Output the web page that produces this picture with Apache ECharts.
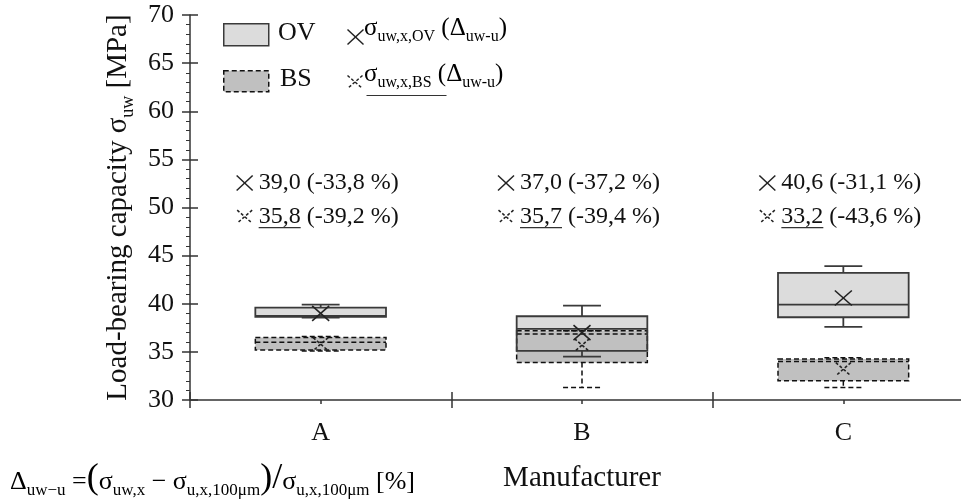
<!DOCTYPE html>
<html>
<head>
<meta charset="utf-8">
<script src="https://cdn.jsdelivr.net/npm/echarts@6/dist/echarts.min.js"></script>
<style>html,body{margin:0;padding:0;background:#fff}#c{width:961px;height:499px}</style>
</head>
<body>
<div id="c"></div>
<script>
// ---- data ----
var categories = ['A', 'B', 'C'];
// [min, q1, median, q3, max]
var ovBox = [
  [38.55, 38.65, 38.75, 39.6, 39.9],
  [34.5, 35.1, 37.4, 38.7, 39.8],
  [37.6, 38.6, 39.9, 43.2, 43.9]
];
var bsBox = [
  [35.1, 35.2, 36.0, 36.5, 36.6],
  [31.3, 33.9, 36.85, 37.2, 37.2],
  [31.3, 32.0, 34.0, 34.25, 34.4]
];
var ovMean = [39.0, 37.0, 40.6];
var bsMean = [35.8, 35.7, 33.2];
var ovDelta = [-33.8, -37.2, -31.1];
var bsDelta = [-39.2, -39.4, -43.6];
var yTicks = [30, 35, 40, 45, 50, 55, 60, 65, 70];

// ---- helpers ----
var FONT = '"Liberation Serif", "Times New Roman", serif';
var FS = 24;
var measureCtx = document.createElement('canvas').getContext('2d');
function textW(t, size) { measureCtx.font = size + 'px ' + FONT; return measureCtx.measureText(t).width; }
function fmt(v) { return v.toFixed(1).replace('.', ','); }
var AX = '#333';

function boxData(arr) { return arr.map(function (b, i) { return [i].concat(b); }); }

function xShape(cx, cy, w, h, dashed, lw) {
  var st = { stroke: '#222', lineWidth: lw || 1.5, fill: null };
  if (dashed) st.lineDash = [3, 2];
  return [
    { type: 'line', shape: { x1: cx - w / 2, y1: cy - h / 2, x2: cx + w / 2, y2: cy + h / 2 }, style: st },
    { type: 'line', shape: { x1: cx + w / 2, y1: cy - h / 2, x2: cx - w / 2, y2: cy + h / 2 }, style: st }
  ];
}

function makeBoxRender(mode) {
  return function (params, api) {
    var cat = api.value(0);
    var band = api.size([1, 0])[0];
    var bw = band * 0.5, cw = band * 0.145;
    var cx = api.coord([cat, api.value(1)])[0];
    var y = [1, 2, 3, 4, 5].map(function (k) { return api.coord([cat, api.value(k)])[1]; });
    var children = [];
    var dashed = mode === 'bs';
    var stroke = dashed ? '#111' : '#3a3a3a';
    var ls = { stroke: stroke, lineWidth: dashed ? 1.5 : 1.8, fill: null };
    if (dashed) ls.lineDash = [5, 3];
    if (mode === 'ovfill') {
      children.push({ type: 'rect', shape: { x: cx - bw / 2, y: y[3], width: bw, height: y[1] - y[3] }, style: { fill: '#dcdcdc', stroke: null } });
      return { type: 'group', children: children };
    }
    if (mode === 'bs') {
      children.push({ type: 'rect', shape: { x: cx - bw / 2, y: y[3], width: bw, height: y[1] - y[3] }, style: { fill: '#c0c0c0', stroke: null } });
    }
    if (y[4] < y[3] - 0.5) children.push({ type: 'line', shape: { x1: cx, y1: y[4], x2: cx, y2: y[3] }, style: ls });
    if (y[0] > y[1] + 0.5) children.push({ type: 'line', shape: { x1: cx, y1: y[1], x2: cx, y2: y[0] }, style: ls });
    children.push({ type: 'line', shape: { x1: cx - cw / 2, y1: y[4], x2: cx + cw / 2, y2: y[4] }, style: ls });
    children.push({ type: 'line', shape: { x1: cx - cw / 2, y1: y[0], x2: cx + cw / 2, y2: y[0] }, style: ls });
    children.push({ type: 'rect', shape: { x: cx - bw / 2, y: y[3], width: bw, height: y[1] - y[3] }, style: ls });
    children.push({ type: 'line', shape: { x1: cx - bw / 2, y1: y[2], x2: cx + bw / 2, y2: y[2] }, style: ls });
    return { type: 'group', children: children };
  };
}

function meanRender(dashed) {
  return function (params, api) {
    var p = api.coord([api.value(0), api.value(1)]);
    return { type: 'group', children: xShape(p[0], p[1], dashed ? 15 : 17, dashed ? 13 : 15, dashed, 1.6) };
  };
}

function annoRender(params, api) {
  var cat = api.value(0);
  var cx = api.coord([cat, 50])[0];
  var y1 = api.coord([cat, 52.55])[1];
  var y2 = api.coord([cat, 49.05])[1];
  var font = FS + 'px ' + FONT;
  var x0 = cx - 76, tx = cx - 62;
  var children = [];
  children = children.concat(xShape(x0, y1, 16, 15, false, 1.5));
  children.push({ type: 'text', style: { x: tx, y: y1, text: fmt(api.value(1)) + ' (' + fmt(api.value(2)) + ' %)', font: font, fill: '#111', align: 'left', verticalAlign: 'middle' } });
  children = children.concat(xShape(x0, y2, 15, 13, true, 1.5));
  var num = fmt(api.value(3));
  var nw = textW(num, FS);
  children.push({ type: 'text', style: { x: tx, y: y2, text: num, font: font, fill: '#111', align: 'left', verticalAlign: 'middle' } });
  children.push({ type: 'line', shape: { x1: tx, y1: y2 + 11, x2: tx + nw, y2: y2 + 11 }, style: { stroke: '#333', lineWidth: 1.3 } });
  children.push({ type: 'text', style: { x: tx + nw + textW(' ', FS), y: y2, text: '(' + fmt(api.value(4)) + ' %)', font: font, fill: '#111', align: 'left', verticalAlign: 'middle' } });
  return { type: 'group', children: children };
}

function makeRich(t, s, p, lh) {
  return {
    t: { fontSize: t, fontFamily: FONT, color: '#111', lineHeight: lh, verticalAlign: 'bottom', padding: [0, 0, 2, 0] },
    s: { fontSize: s, fontFamily: FONT, color: '#111', lineHeight: lh, verticalAlign: 'bottom', padding: [0, 0, -2, 0] },
    p: { fontSize: p, fontFamily: FONT, color: '#111', lineHeight: lh, verticalAlign: 'bottom', padding: [0, 0, 0, 0] }
  };
}
var richLegend = makeRich(25, 16, 34, 32);
var richTitle = makeRich(29, 18, 36, 36);
var richFormula = makeRich(26, 17, 36, 34);

var chart = echarts.init(document.getElementById('c'), null, { renderer: 'canvas' });
var option = {
  animation: false,
  backgroundColor: '#fff',
  textStyle: { fontFamily: FONT },
  grid: { left: 190, right: -13, top: 15, bottom: 99, outerBoundsMode: 'none', containLabel: false },
  xAxis: [
    {
      type: 'category', data: categories, boundaryGap: true,
      axisLine: { lineStyle: { color: AX, width: 1.5 } },
      axisTick: { show: true, length: 8, lineStyle: { color: AX, width: 1.5 } },
      axisLabel: { fontSize: 26, fontFamily: FONT, color: '#111', margin: 20 },
      name: 'Manufacturer', nameLocation: 'middle', nameGap: 64,
      nameTextStyle: { fontSize: 29, fontFamily: FONT, color: '#111', padding: [0, 0, 0, 0] }
    },
    {
      type: 'category', data: categories, position: 'bottom',
      axisLine: { show: false },
      axisTick: { show: true, inside: true, length: 8, lineStyle: { color: AX, width: 1.5 } },
      axisLabel: { show: false }
    },
    {
      type: 'category', data: categories, position: 'bottom',
      axisLine: { show: false },
      axisTick: { show: true, alignWithLabel: true, length: 4, lineStyle: { color: AX, width: 1.5 } },
      axisLabel: { show: false }
    }
  ],
  yAxis: [
    {
      type: 'value', min: 30, max: 70, interval: 5,
      axisLine: { show: true, lineStyle: { color: AX, width: 1.5 } },
      axisTick: { show: true, length: 8, lineStyle: { color: AX, width: 1.5 } },
      minorTick: { show: true, splitNumber: 5, length: 4, lineStyle: { color: AX, width: 1 } },
      splitLine: { show: false },
      axisLabel: { fontSize: 26, fontFamily: FONT, color: '#111', margin: 16,
        formatter: function (v) { return yTicks.indexOf(v) >= 0 ? String(v) : ''; } },
      name: '{t|Load-bearing capacity σ}{s|uw}{t| [MPa]}', nameLocation: 'middle', nameGap: 52,
      nameTextStyle: { rich: richTitle }
    },
    {
      type: 'value', min: 30, max: 70, interval: 5, position: 'left',
      axisLine: { show: false },
      axisTick: { show: true, inside: true, length: 8, lineStyle: { color: AX, width: 1.5 } },
      splitLine: { show: false },
      axisLabel: { show: false }
    }
  ],
  series: [
    { type: 'custom', name: 'OVfill', renderItem: makeBoxRender('ovfill'), data: boxData(ovBox), encode: { x: 0, y: [1, 2, 3, 4, 5] }, z: 2 },
    { type: 'custom', name: 'BS', renderItem: makeBoxRender('bs'), data: boxData(bsBox), encode: { x: 0, y: [1, 2, 3, 4, 5] }, z: 2 },
    { type: 'custom', name: 'OV', renderItem: makeBoxRender('ovline'), data: boxData(ovBox), encode: { x: 0, y: [1, 2, 3, 4, 5] }, z: 2 },
    { type: 'custom', name: 'BSmean', renderItem: meanRender(true), data: bsMean.map(function (v, i) { return [i, v]; }), encode: { x: 0, y: 1 }, z: 3 },
    { type: 'custom', name: 'OVmean', renderItem: meanRender(false), data: ovMean.map(function (v, i) { return [i, v]; }), encode: { x: 0, y: 1 }, z: 3 },
    { type: 'custom', name: 'anno', renderItem: annoRender,
      data: categories.map(function (c, i) { return [i, ovMean[i], ovDelta[i], bsMean[i], bsDelta[i]]; }),
      encode: { x: 0, y: 1 }, z: 3, clip: false }
  ],
  graphic: [
    { type: 'rect', left: 223, top: 23, shape: { width: 45, height: 22 }, style: { fill: '#dcdcdc', stroke: '#3a3a3a', lineWidth: 1.5 } },
    { type: 'text', left: 278, top: 20, style: { text: 'OV', font: '26px ' + FONT, fill: '#111' } },
    { type: 'group', left: 345, top: 27, children: xShape(8, 8, 16, 15, false, 1.5) },
    { type: 'text', left: 364, top: 16, style: { text: '{t|σ}{s|uw,x,OV}{t| (Δ}{s|uw-u}{t|)}', rich: richLegend } },
    { type: 'rect', left: 223, top: 70, shape: { width: 45, height: 21 }, style: { fill: '#c0c0c0', stroke: '#111', lineWidth: 1.5, lineDash: [5, 3] } },
    { type: 'text', left: 280, top: 66, style: { text: 'BS', font: '26px ' + FONT, fill: '#111' } },
    { type: 'group', left: 345, top: 73, children: xShape(7.5, 7, 15, 13, true, 1.5) },
    { type: 'text', left: 364, top: 62, style: { text: '{t|σ}{s|uw,x,BS}{t| (Δ}{s|uw-u}{t|)}', rich: richLegend } },
    { type: 'line', left: 364, top: 93, shape: { x1: 0, y1: 0, x2: 80, y2: 0 }, style: { stroke: '#333', lineWidth: 1.2 } },
    { type: 'text', left: 10, top: 461, style: { text: '{t|Δ}{s|uw−u}{t| =}{p|(}{t|σ}{s|uw,x}{t| − σ}{s|u,x,100μm}{p|)}{p|/}{t|σ}{s|u,x,100μm}{t| [%]}', rich: richFormula } }
  ]
};
chart.setOption(option);
</script>
</body>
</html>
